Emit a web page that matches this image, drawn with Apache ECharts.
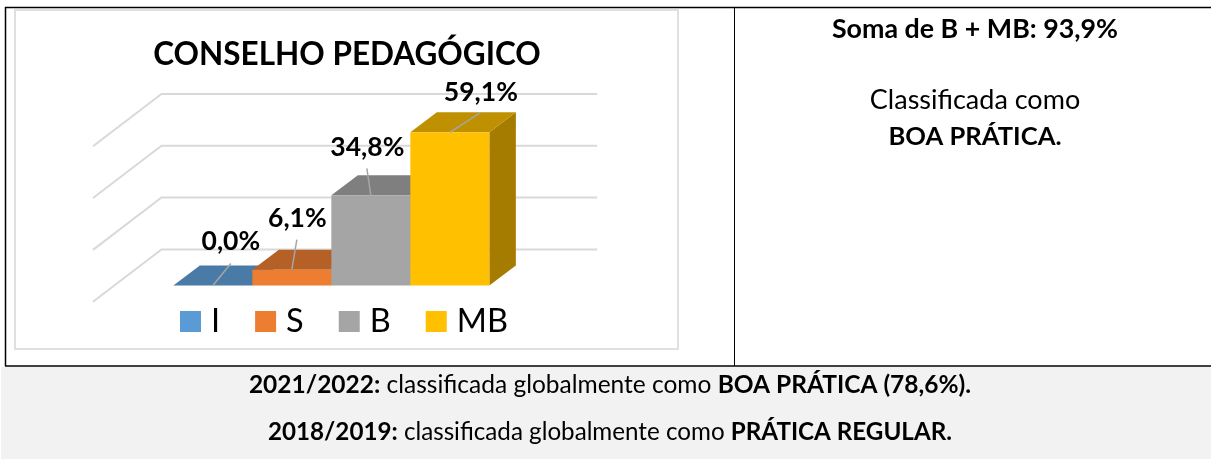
<!DOCTYPE html>
<html>
<head>
<meta charset="utf-8">
<style>
    html,body{margin:0;padding:0;background:#fff;}
    #chart{width:1211px;height:459px;}
</style>
<script src="https://cdn.jsdelivr.net/npm/echarts@6/dist/echarts.min.js"></script>
</head>
<body>
<div id="chart"></div>
<script>
// dados do grafico
var categories = ['Conselho Pedagógico']
var seriesNames = ['I','S','B','MB']
var valuesI = [0.0]
var valuesS = [6.1]
var valuesB = [34.8]
var valuesMB = [59.1]
var gridTicks = [0,20,40,60]

// textos
var chartTitle = 'CONSELHO PEDAGÓGICO'
var sumText = 'Soma de B + MB: 93,9%'
var classText = 'Classificada como'
var classBold = 'BOA PRÁTICA.'

var fontName = 'Lato'

// perspectiva falsa 3D, em pixeis
var wallDepth = {x:68.5,y:52.3}
var barDepth = {x:26.5,y:20}
var barInset = {x:20.5,y:16.2}   // distancia da frente do chao ate a frente das barras
var barWidth = 79

// cores: frente, topo, lado
var palette = [
    {front:'#5B9BD5',top:'#4A7AA6',side:'#3C6287'},
    {front:'#ED7D31',top:'#B56027',side:'#945020'},
    {front:'#A5A5A5',top:'#7F7F7F',side:'#6B6B6B'},
    {front:'#FFC000',top:'#BF9000',side:'#A67C00'}
]
// rotulos colocados à mão no original: deslocamento a partir do topo da barra
var labelOffset = [[18,-44],[5.5,-51],[-3.5,-47.5],[31,-40]]
var leaderOffset = [[18,-22],[5,-30],[-4,-27],[31,-20]]

function wallItem(params,api){
    var tick = api.value(0)
    var band = api.size([1,0])[0]
    var p = api.coord([0,tick])
    var x0 = p[0]-band/2
    var x1 = x0+wallDepth.x
    var x2 = p[0]+band/2+wallDepth.x
    var y1 = p[1]-wallDepth.y
    return {
        type:'polyline',
        shape:{points:[[x0,p[1]],[x1,y1],[x2,y1]]},
        style:{fill:null,stroke:'#D9D9D9',lineWidth:2},
        silent:true
    }
}

function barItem(idx){
    return function(params,api){
        var v = api.value(1)
        var base = api.coord([0,0])
        var top = api.coord([0,v])
        var left = base[0]+barInset.x+(idx-seriesNames.length/2)*barWidth
        var right = left+barWidth
        var yb = base[1]-barInset.y
        var yt = top[1]-barInset.y
        var c = palette[idx]
        var cx = (left+right)/2
        var ox = barDepth.x, oy = barDepth.y
        return {
            type:'group',
            children:[
                {type:'polygon',shape:{points:[[right,yb],[right+ox,yb-oy],[right+ox,yt-oy],[right,yt]]},style:{fill:c.side}},
                {type:'polygon',shape:{points:[[left,yt],[right,yt],[right+ox,yt-oy],[left+ox,yt-oy]]},style:{fill:c.top}},
                {type:'rect',shape:{x:left,y:yt,width:barWidth,height:yb-yt},style:{fill:c.front}},
                {type:'line',shape:{x1:cx,y1:yt,x2:cx+leaderOffset[idx][0],y2:yt+leaderOffset[idx][1]},style:{stroke:'#A6A6A6',lineWidth:1.5},z2:20},
                {type:'text',x:cx+labelOffset[idx][0],y:yt+labelOffset[idx][1],z2:30,style:{
                    text:v.toFixed(1).replace('.',',')+'%',
                    fill:'#000',font:'bold 26.5px '+fontName,align:'center',verticalAlign:'middle'
                }}
            ]
        }
    }
}

var allValues = [valuesI,valuesS,valuesB,valuesMB]
var barSeries = seriesNames.map(function(name,i){
    return {
        name:name,
        type:'custom',
        coordinateSystem:'cartesian2d',
        renderItem:barItem(i),
        itemStyle:{color:palette[i].front},
        encode:{x:0,y:1},
        z:5,
        data:categories.map(function(c,k){return [k,allValues[i][k]]})
    }
})

var chart = echarts.init(document.getElementById('chart'),null,{renderer:'canvas'})
chart.setOption({
    animation:false,
    backgroundColor:'#fff',
    title:{
        text:chartTitle,
        left:342,
        top:34,
        textAlign:'center',
        textStyle:{fontFamily:fontName,fontWeight:'bold',fontSize:31.5,color:'#000'}
    },
    legend:{
        data:seriesNames,
        left:175,
        top:300,
        itemWidth:21,
        itemHeight:21,
        itemGap:35,
        icon:'rect',
        textStyle:{fontFamily:fontName,fontSize:32.5,color:'#000',padding:[0,0,0,5]}
    },
    grid:{left:93,top:146.2,width:435.7,height:155.5},
    xAxis:{type:'category',data:categories,show:false},
    yAxis:{type:'value',min:0,max:60,interval:20,show:false},
    series:[{
        type:'custom',
        coordinateSystem:'cartesian2d',
        renderItem:wallItem,
        silent:true,
        z:1,
        encode:{y:0},
        data:gridTicks.map(function(t){return [t]})
    }].concat(barSeries),
    graphic:[
        {type:'rect',z:-10,silent:true,shape:{x:1,y:367,width:1210,height:92},style:{fill:'#F2F2F2'}},
        {type:'rect',z:-9,silent:true,shape:{x:15,y:10,width:663,height:339},style:{fill:'#fff',stroke:'#E0E0E0',lineWidth:2}},
        {type:'line',z:-8,silent:true,shape:{x1:5,y1:7.5,x2:1211,y2:7.5},style:{stroke:'#000',lineWidth:1.5}},
        {type:'line',z:-8,silent:true,shape:{x1:5,y1:366,x2:1211,y2:366},style:{stroke:'#000',lineWidth:1.5}},
        {type:'line',z:-8,silent:true,shape:{x1:5.5,y1:7,x2:5.5,y2:366},style:{stroke:'#000',lineWidth:1.5}},
        {type:'line',z:-8,silent:true,shape:{x1:734.5,y1:7,x2:734.5,y2:366},style:{stroke:'#000',lineWidth:1}},
        {type:'text',x:975,y:29,style:{text:sumText,fill:'#000',font:'bold 26.8px '+fontName,align:'center',verticalAlign:'middle'}},
        {type:'text',x:975,y:100,style:{text:classText,fill:'#000',font:'27px '+fontName,align:'center',verticalAlign:'middle'}},
        {type:'text',x:975,y:137,style:{text:classBold,fill:'#000',font:'bold 25.6px '+fontName,align:'center',verticalAlign:'middle'}},
        {type:'text',x:610,y:385,style:{
            text:'{b|2021/2022:}{n| classificada globalmente como }{b|BOA PRÁTICA (78,6%).}',
            align:'center',verticalAlign:'middle',
            rich:{
                b:{font:'bold 24.5px '+fontName,fill:'#000'},
                n:{font:'24.5px '+fontName,fill:'#000'}
            }
        }},
        {type:'text',x:610,y:432,style:{
            text:'{b|2018/2019:}{n| classificada globalmente como }{b|PRÁTICA REGULAR.}',
            align:'center',verticalAlign:'middle',
            rich:{
                b:{font:'bold 24.2px '+fontName,fill:'#000'},
                n:{font:'24.2px '+fontName,fill:'#000'}
            }
        }}
    ]
})
</script>
</body>
</html>
